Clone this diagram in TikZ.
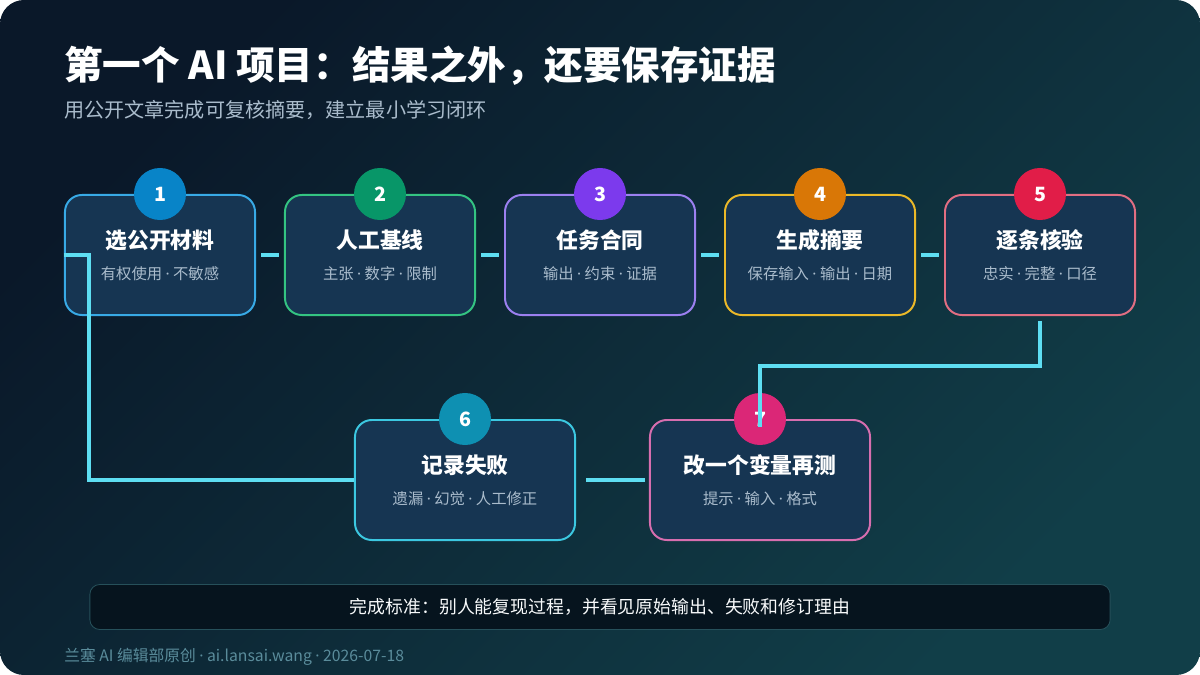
\documentclass[tikz,border=0pt]{standalone}
\usepackage{fontspec}
\setmainfont{Noto Sans CJK SC}
\newfontfamily\dotfont{Noto Sans}
\usepackage{tikz}
\usetikzlibrary{positioning, calc}
\definecolor{bgA}{RGB}{10, 24, 41}
\definecolor{bgB}{RGB}{17, 62, 72}
\definecolor{boxFill}{RGB}{22, 53, 82}
\definecolor{subGray}{RGB}{170, 188, 204}
\definecolor{linkCyan}{RGB}{94, 222, 242}
\definecolor{lineBlue}{RGB}{56, 170, 230}
\definecolor{lineGreen}{RGB}{52, 196, 130}
\definecolor{linePurple}{RGB}{156, 128, 240}
\definecolor{lineYellow}{RGB}{235, 185, 40}
\definecolor{lineRed}{RGB}{226, 110, 130}
\definecolor{lineCyan}{RGB}{60, 200, 225}
\definecolor{linePink}{RGB}{215, 110, 175}
\definecolor{dotBlue}{RGB}{8, 132, 200}
\definecolor{dotGreen}{RGB}{8, 150, 104}
\definecolor{dotPurple}{RGB}{124, 58, 237}
\definecolor{dotOrange}{RGB}{217, 119, 6}
\definecolor{dotRed}{RGB}{225, 29, 72}
\definecolor{dotCyan}{RGB}{14, 144, 178}
\definecolor{dotPink}{RGB}{219, 39, 119}
\definecolor{barFill}{RGB}{6, 20, 30}
\definecolor{barLine}{RGB}{38, 80, 90}
\definecolor{footGray}{RGB}{90, 140, 155}
\tikzset{
  stepboxB/.style={rectangle, draw=lineBlue, fill=boxFill, line width=1.4pt,
                   minimum width=4.75cm, minimum height=3cm, text=subGray,
                   align=center, rounded corners=12pt, font=\fontsize{10.9}{16}\selectfont},
  stepboxG/.style={rectangle, draw=lineGreen, fill=boxFill, line width=1.4pt,
                   minimum width=4.75cm, minimum height=3cm, text=subGray,
                   align=center, rounded corners=12pt, font=\fontsize{10.9}{16}\selectfont},
  stepboxP/.style={rectangle, draw=linePurple, fill=boxFill, line width=1.4pt,
                   minimum width=4.75cm, minimum height=3cm, text=subGray,
                   align=center, rounded corners=12pt, font=\fontsize{10.9}{16}\selectfont},
  stepboxY/.style={rectangle, draw=lineYellow, fill=boxFill, line width=1.4pt,
                   minimum width=4.75cm, minimum height=3cm, text=subGray,
                   align=center, rounded corners=12pt, font=\fontsize{10.9}{16}\selectfont},
  stepboxR/.style={rectangle, draw=lineRed, fill=boxFill, line width=1.4pt,
                   minimum width=4.75cm, minimum height=3cm, text=subGray,
                   align=center, rounded corners=12pt, font=\fontsize{10.9}{16}\selectfont},
  stepboxC/.style={rectangle, draw=lineCyan, fill=boxFill, line width=1.4pt,
                   minimum width=5.5cm, minimum height=3cm, text=subGray,
                   align=center, rounded corners=12pt, font=\fontsize{10.9}{16}\selectfont},
  stepboxM/.style={rectangle, draw=linePink, fill=boxFill, line width=1.4pt,
                   minimum width=5.5cm, minimum height=3cm, text=subGray,
                   align=center, rounded corners=12pt, font=\fontsize{10.9}{16}\selectfont},
  badge/.style={circle, minimum size=1.3cm, inner sep=0pt, text=white,
                font=\bfseries\fontsize{14}{14}\selectfont},
  link/.style={draw=linkCyan, line width=2.8pt},
  barbox/.style={rectangle, draw=barLine, fill=barFill, line width=0.6pt,
                 minimum width=25.5cm, minimum height=1.125cm,
                 rounded corners=7pt, text=white!92!subGray,
                 font=\fontsize{12.7}{15}\selectfont},
}
\newcommand{\steptitle}[1]{\textcolor{white}{\bfseries\fontsize{15.5}{18}\selectfont #1}}
\newcommand{\sep}{ {\dotfont ·} }

\begin{document}
\begin{tikzpicture}[x=0.025cm, y=-0.025cm]
    \useasboundingbox (0,0) rectangle (1200,675);
    \fill[white] (0,0) rectangle (1200,675);
    \shade[top color=bgA, bottom color=bgB, shading angle=45, rounded corners=0.6cm]
      (0,0) rectangle (1200,675);

    % heading
    \node[anchor=base west, inner sep=0pt, text=white,
          font=\bfseries\fontsize{27.4}{32}\selectfont] (title) at (64,80)
      {第一个 AI 项目：结果之外，还要保存证据};
    \node[anchor=base west, inner sep=0pt, text=subGray,
          font=\fontsize{14.3}{17}\selectfont] (subtitle) at (64,118)
      {用公开文章完成可复核摘要，建立最小学习闭环};

    % top row
    \node[stepboxB] (S1) at (160,255) {\steptitle{选公开材料}\\[6pt]有权使用\sep 不敏感};
    \node[stepboxG] (S2) at (380,255) {\steptitle{人工基线}\\[6pt]主张\sep 数字\sep 限制};
    \node[stepboxP] (S3) at (600,255) {\steptitle{任务合同}\\[6pt]输出\sep 约束\sep 证据};
    \node[stepboxY] (S4) at (820,255) {\steptitle{生成摘要}\\[6pt]保存输入\sep 输出\sep 日期};
    \node[stepboxR] (S5) at (1040,255) {\steptitle{逐条核验}\\[6pt]忠实\sep 完整\sep 口径};

    % bottom row
    \node[stepboxC] (S6) at (465,480) {\steptitle{记录失败}\\[6pt]遗漏\sep 幻觉\sep 人工修正};
    \node[stepboxM] (S7) at (760,480) {\steptitle{改一个变量再测}\\[6pt]提示\sep 输入\sep 格式};

    \node[badge, fill=dotBlue] (N1) at (S1.north) {1};
    \node[badge, fill=dotGreen] (N2) at (S2.north) {2};
    \node[badge, fill=dotPurple] (N3) at (S3.north) {3};
    \node[badge, fill=dotOrange] (N4) at (S4.north) {4};
    \node[badge, fill=dotRed] (N5) at (S5.north) {5};
    \node[badge, fill=dotCyan] (N6) at (S6.north) {6};
    \node[badge, fill=dotPink] (N7) at (S7.north) {7};

    % connectors
    \draw[link, shorten <=0.125cm, shorten >=0.125cm] (S1.east) -- (S2.west);
    \draw[link, shorten <=0.125cm, shorten >=0.125cm] (S2.east) -- (S3.west);
    \draw[link, shorten <=0.125cm, shorten >=0.125cm] (S3.east) -- (S4.west);
    \draw[link, shorten <=0.125cm, shorten >=0.125cm] (S4.east) -- (S5.west);
    \draw[link, shorten <=0.125cm, shorten >=-0.2cm] (S5.south) -- ++(0,50) -| (S7.north);
    \draw[link, shorten <=0.25cm, shorten >=0.1cm] (S6.east) -- (S7.west);
    \draw[link] (S1.west) -- ++(25,0) |- (S6.west);

    % footer
    \node[barbox] (bar) at (600,607)
      {完成标准：别人能复现过程，并看见原始输出、失败和修订理由};
    \node[anchor=base west, inner sep=0pt, text=footGray,
          font=\fontsize{11.2}{13}\selectfont] (credit) at (64,661)
      {兰塞 AI 编辑部原创\sep ai.lansai.wang\sep 2026-07-18};
\end{tikzpicture}
\end{document}
